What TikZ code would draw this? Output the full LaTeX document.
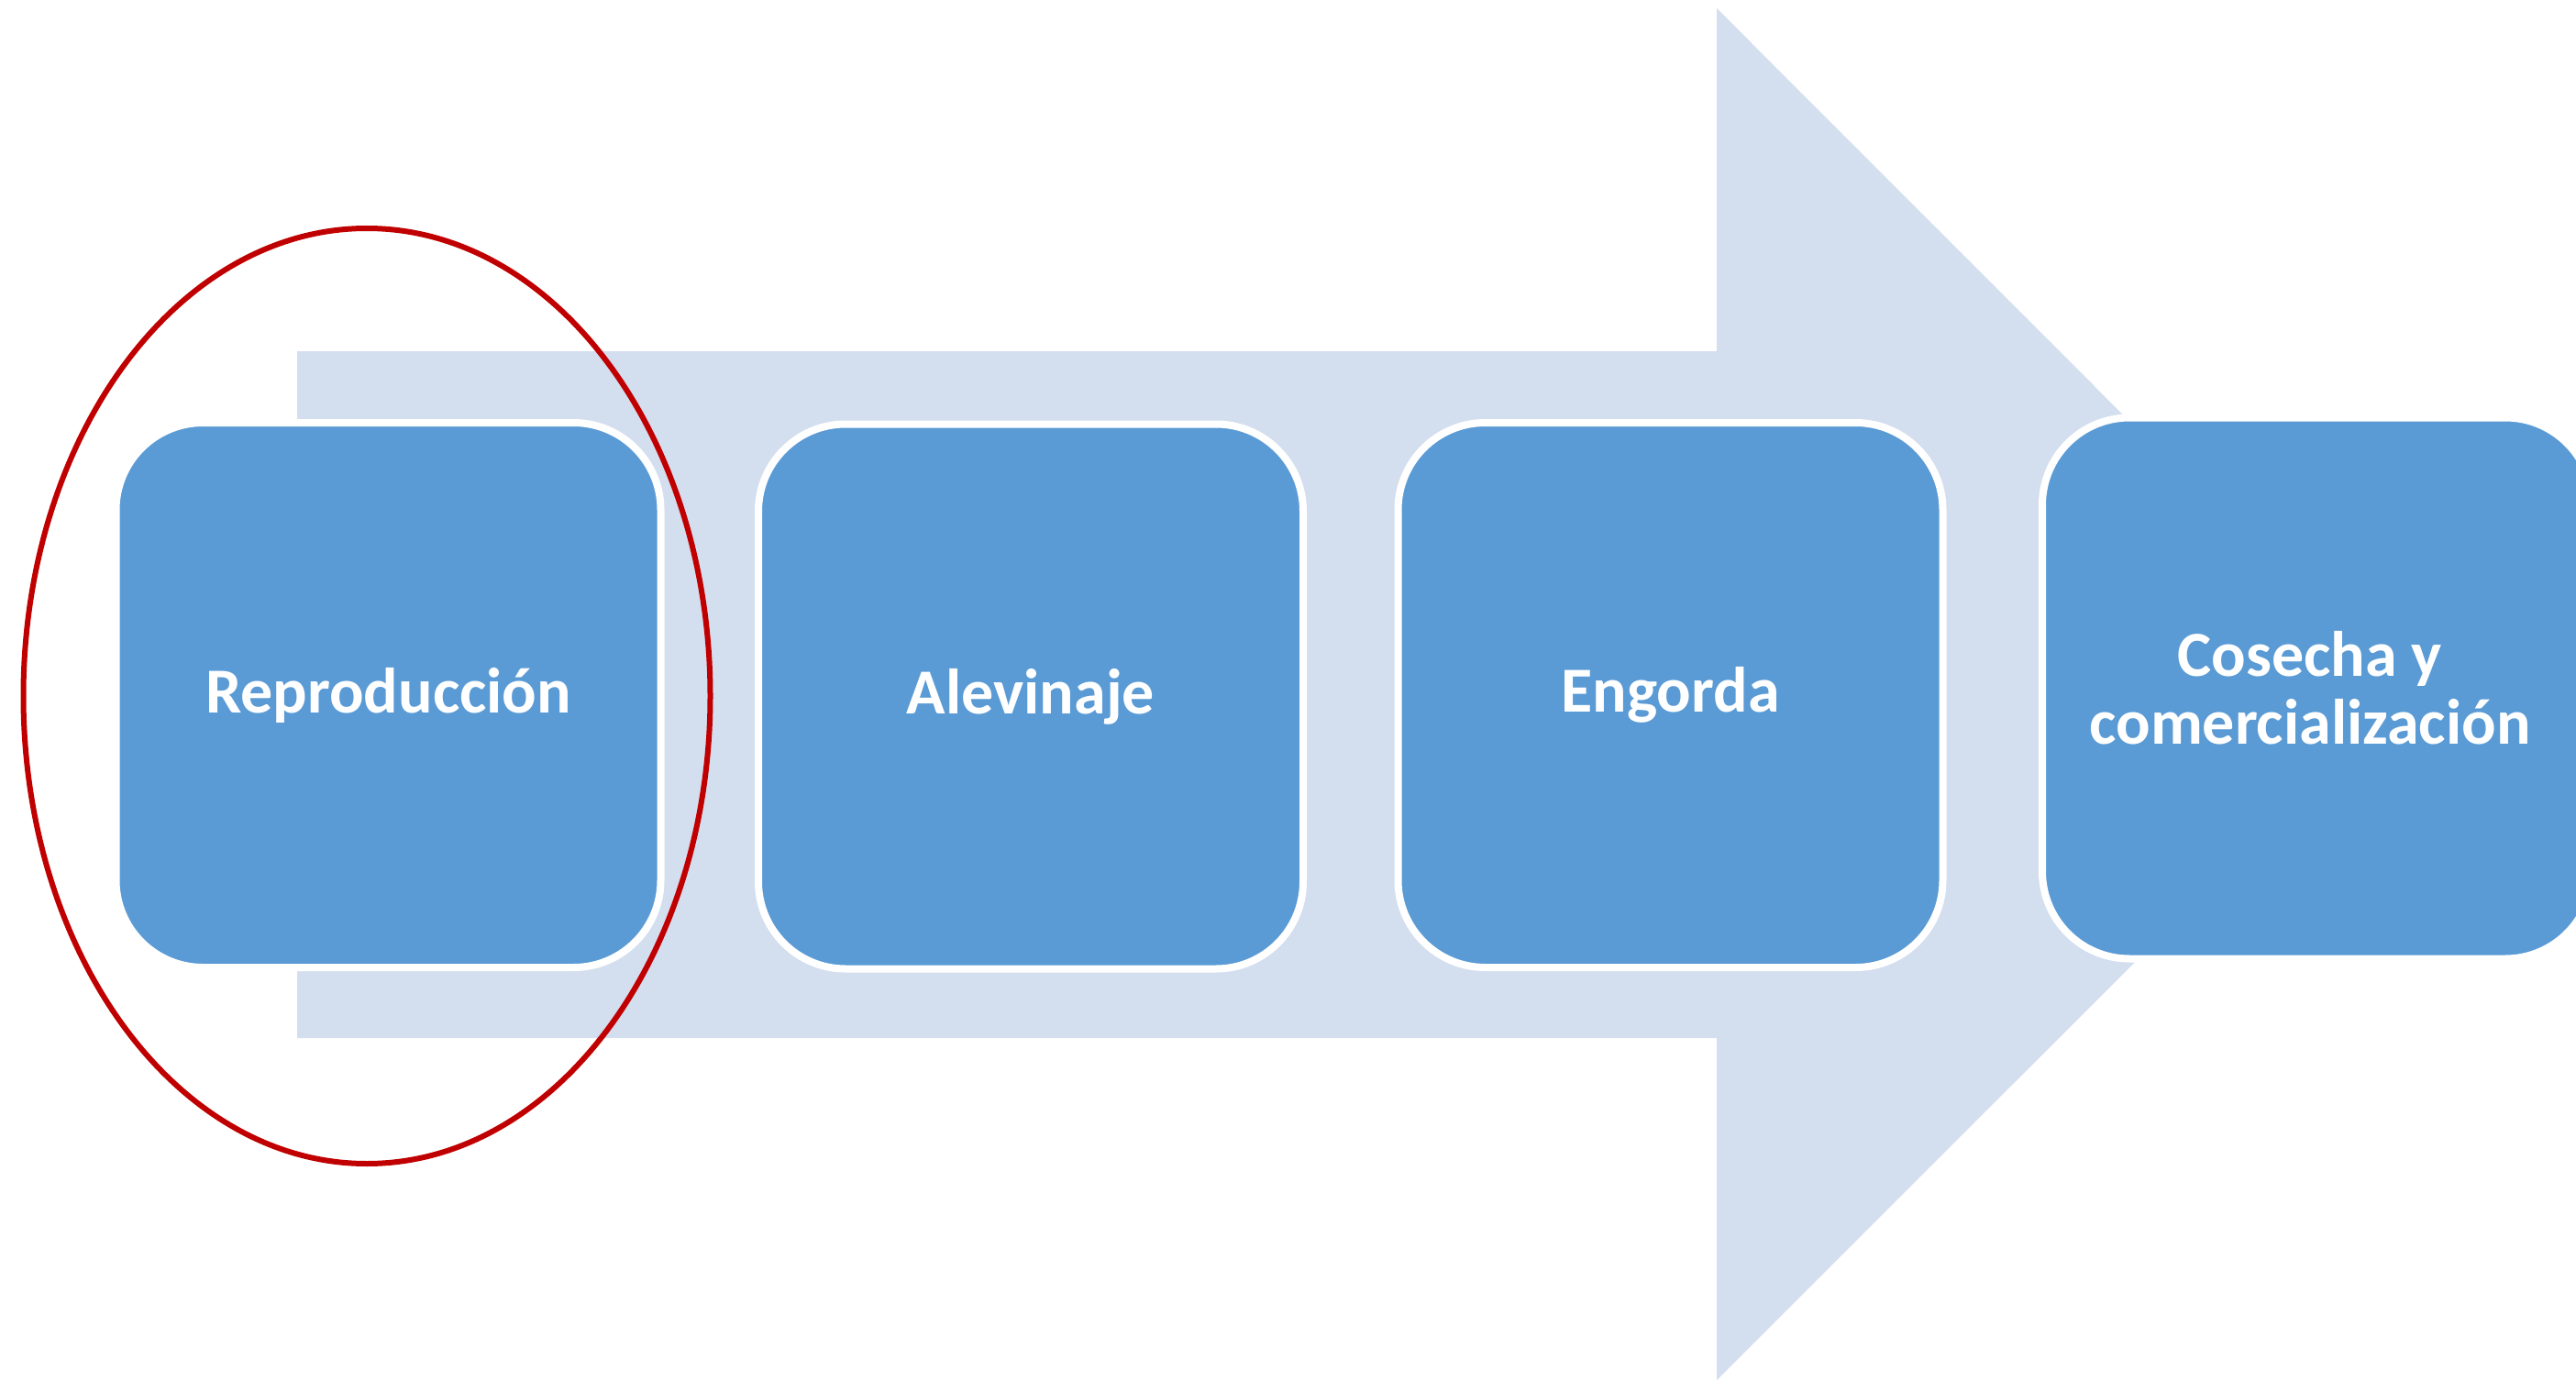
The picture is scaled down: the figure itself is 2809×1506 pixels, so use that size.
\documentclass[tikz,border=0pt]{standalone}
\usepackage{fontspec}
\setmainfont{Carlito}
\usetikzlibrary{shapes.geometric}
\definecolor{arrowfill}{RGB}{211,222,239}
\definecolor{boxfill}{RGB}{91,155,213}
\definecolor{ringred}{RGB}{192,0,0}
\begin{document}
\begin{tikzpicture}[x=1pt,y=-1pt,
  stage/.style={draw=white, line width=8pt, fill=boxfill, rounded corners=95pt,
    minimum width=594pt, minimum height=594pt, align=center, text=white,
    font=\fontsize{70}{74}\selectfont\bfseries, inner sep=0pt},
  ring/.style={draw=ringred, line width=6pt, ellipse, inner sep=0pt}]
\useasboundingbox (0,0) rectangle (2809,1506);
\fill[arrowfill] (324,383) -- (1872,383) -- (1872,9) -- (2620,757.5)
  -- (1872,1505) -- (1872,1132) -- (324,1132) -- cycle;
\node[stage] (b1) at (423.5,758) {Reproducción};
\node[stage] (b2) at (1124,759.5) {Alevinaje};
\node[stage] (b3) at (1821.5,758) {Engorda};
\node[stage, minimum width=600pt, minimum height=590pt] (b4) at (2527,750.5) {\hspace*{-16pt}Cosecha y\\\hspace*{-16pt}comercialización};
\node[ring, minimum width=749pt, minimum height=1020pt] (r1) at (400,759) {};
\end{tikzpicture}
\end{document}
